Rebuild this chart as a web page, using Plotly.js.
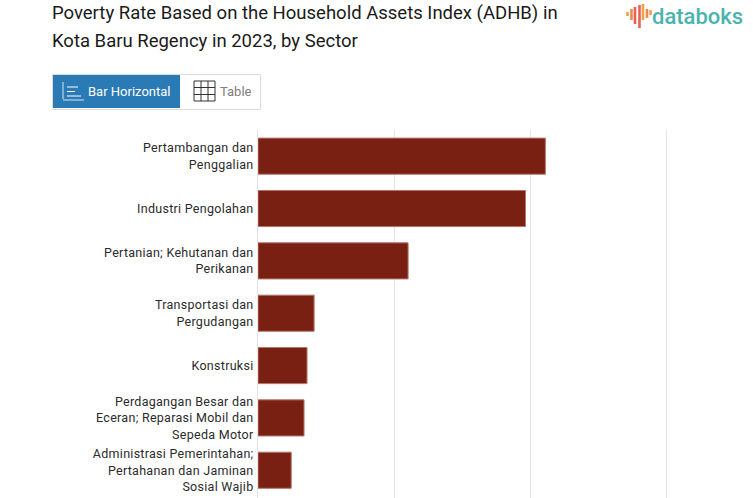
<!DOCTYPE html>
<html>
<head>
<meta charset="utf-8">
<script src="https://cdn.plot.ly/plotly-3.0.1.min.js"></script>
<style>html,body{margin:0;padding:0;background:#fff;overflow:hidden}#chart{width:753px;height:498px}
.ytick text{letter-spacing:.28px}</style>
</head>
<body>
<div id="chart"></div>
<script>
const categories = [
  "Pertambangan dan<br>Penggalian",
  "Industri Pengolahan",
  "Pertanian; Kehutanan dan<br>Perikanan",
  "Transportasi dan<br>Pergudangan",
  "Konstruksi",
  "Perdagangan Besar dan<br>Eceran; Reparasi Mobil dan<br>Sepeda Motor",
  "Administrasi Pemerintahan;<br>Pertahanan dan Jaminan<br>Sosial Wajib"
];
const values = [10.55, 9.82, 5.51, 2.06, 1.80, 1.69, 1.22];
const titleLine1 = "Poverty Rate Based on the Household Assets Index (ADHB) in";
const titleLine2 = "Kota Baru Regency in 2023, by Sector";
const tabLabels = ["Bar Horizontal", "Table"];
const logoText = "databoks";
const logoBars = [
  {x:627.5,y0:12,y1:16,c:"#f0a04b"},{x:631.5,y0:9,y1:20,c:"#ea8a50"},{x:635,y0:7,y1:24,c:"#e8604f"},
  {x:639.5,y0:5,y1:28,c:"#e8604f"},{x:643,y0:4,y1:20,c:"#f0a04b"},{x:647,y0:9,y1:18,c:"#ea8a50"},{x:650.5,y0:10,y1:15,c:"#f0a04b"}
];

const W = 753, H = 498, M = {l:258, r:33, t:130, b:0};
const fx = p => (p - M.l) / (W - M.l - M.r);
const fy = p => 1 - (p - M.t) / (H - M.t - M.b);
const rect = (x0,y0,x1,y1,fill,line,lw) => ({type:"rect",xref:"paper",yref:"paper",layer:"above",
  x0:fx(x0),x1:fx(x1),y0:fy(y1),y1:fy(y0),fillcolor:fill||"rgba(0,0,0,0)",line:{color:line||"rgba(0,0,0,0)",width:lw||0}});
const seg = (x0,y0,x1,y1,c,w) => ({type:"line",xref:"paper",yref:"paper",layer:"above",
  x0:fx(x0),x1:fx(x1),y0:fy(y0),y1:fy(y1),line:{color:c,width:w}});
const note = (x,y,text,size,color,anchor,weight) => ({xref:"paper",yref:"paper",x:fx(x),y:fy(y),text,showarrow:false,
  xanchor:anchor||"left",yanchor:"middle",align:"left",font:{family:"Roboto",size,color,weight:weight||400}});

const shapes = [
  rect(52.5,74.5,260.5,109.5,"#fff","#dcdcdc",1),
  rect(53,75,180,108,"#2a7ab6"),
  seg(63,82,63,99,"#d6e6f2",1), seg(63,100,84,100,"#d6e6f2",1),
  seg(67,87,78,87,"#fff",1), seg(67,91.5,75,91.5,"#fff",1), seg(67,96,81,96,"#fff",1),
  rect(194,81,215,101,"rgba(0,0,0,0)","#333",1),
  seg(201,81,201,101,"#333",1), seg(208,81,208,101,"#333",1),
  seg(194,87.5,215,87.5,"#333",1), seg(194,94.5,215,94.5,"#333",1)
].concat(logoBars.map(b => seg(b.x,b.y0,b.x,b.y1,b.c,2.6)));

const annotations = [
  note(50,13,titleLine1,18.5,"#1a1a1a"),
  note(50,41,titleLine2,18.5,"#1a1a1a"),
  note(86,91.5,tabLabels[0],13,"#ffffff"),
  note(218,91.5,tabLabels[1],13,"#808080"),
  note(650,16,logoText,22,"#4bb3ad","left",500)
];

Plotly.newPlot("chart", [{
  type:"bar", orientation:"h", y:categories, x:values,
  marker:{color:"#7a2012", line:{color:"#b5766b", width:1}},
  hoverinfo:"x+y"
}], {
  width:W, height:H, margin:M, paper_bgcolor:"#fff", plot_bgcolor:"#fff",
  showlegend:false, bargap:0.31,
  font:{family:"Roboto",size:12,color:"#333"},
  xaxis:{range:[0,16.96], dtick:5, showticklabels:false, showgrid:true, gridcolor:"#e4e4e4", gridwidth:1, zeroline:false, fixedrange:true},
  yaxis:{type:"category", categoryorder:"array", categoryarray:categories, range:[6.53,-0.5], showgrid:false, zeroline:true,
    showline:true, linecolor:"#e4e4e4", linewidth:1, ticks:"", ticklen:0, ticklabelstandoff:1, automargin:false, tickfont:{family:"Roboto",size:12.5,color:"#2b2b2b"}, fixedrange:true},
  shapes, annotations
}, {displayModeBar:false, staticPlot:true});
</script>
</body>
</html>
